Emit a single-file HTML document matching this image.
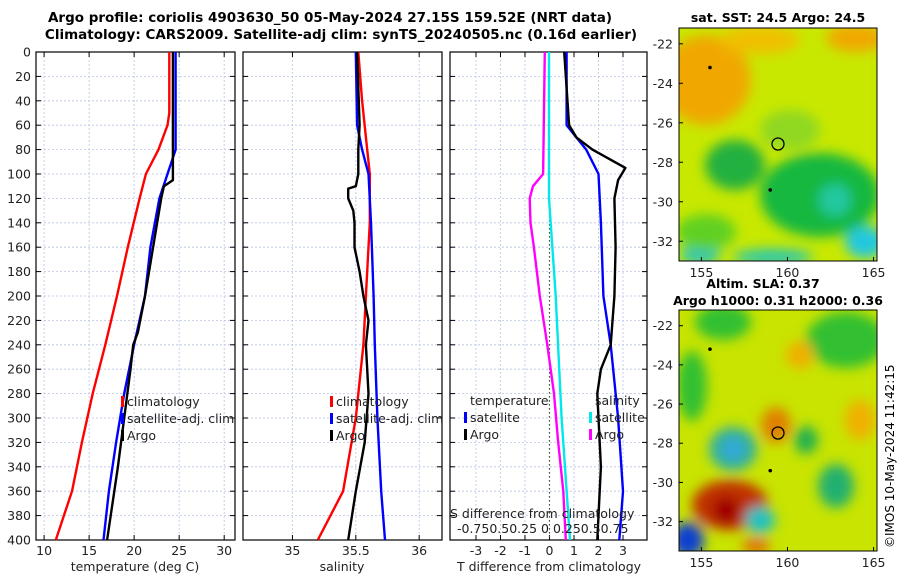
<!DOCTYPE html>
<html><head><meta charset="utf-8"><style>
body{margin:0;background:#fff;font-family:"Liberation Sans","DejaVu Sans",sans-serif}
svg text{font-family:"DejaVu Sans","Liberation Sans",sans-serif}
</style></head><body>
<svg id="c" width="900" height="580" viewBox="0 0 900 580" xmlns="http://www.w3.org/2000/svg">
<defs>
<filter id="bl" x="-30%" y="-30%" width="160%" height="160%"><feGaussianBlur stdDeviation="6"/></filter>
<clipPath id="m1"><rect x="679" y="28" width="198" height="233"/></clipPath>
<clipPath id="m2"><rect x="679" y="310" width="198" height="241"/></clipPath>
</defs>
<text x="330" y="22" font-size="13.5" font-weight="bold" text-anchor="middle">Argo profile: coriolis 4903630_50 05-May-2024 27.15S 159.52E (NRT data)</text>
<text x="341" y="39" font-size="13.5" font-weight="bold" text-anchor="middle">Climatology: CARS2009. Satellite-adj clim: synTS_20240505.nc (0.16d earlier)</text>
<g id="plots"></g>
<g clip-path="url(#m1)">
<rect x="679" y="28" width="198" height="233" fill="#c8e800"/>
<g filter="url(#bl)">
<ellipse cx="706" cy="80" rx="45" ry="45" fill="#f0a800"/>
<ellipse cx="760" cy="40" rx="40" ry="14" fill="#f0c000"/>
<ellipse cx="856" cy="38" rx="30" ry="14" fill="#f0a800"/>
<ellipse cx="735" cy="165" rx="30" ry="25" fill="#20b040"/>
<ellipse cx="820" cy="195" rx="60" ry="42" fill="#18b840"/>
<ellipse cx="835" cy="200" rx="16" ry="16" fill="#20c8a0"/>
<ellipse cx="865" cy="242" rx="20" ry="16" fill="#20c8e0"/>
<ellipse cx="773" cy="257" rx="40" ry="8" fill="#28c8b0"/>
<ellipse cx="700" cy="255" rx="20" ry="10" fill="#30c8b0"/>
<ellipse cx="706" cy="232" rx="30" ry="18" fill="#60d020"/>
<ellipse cx="790" cy="130" rx="30" ry="20" fill="#90d820"/>
</g>
</g>
<rect x="679" y="28" width="198" height="233" fill="none" stroke="#000"/>
<circle cx="778" cy="144" r="6" fill="none" stroke="#000" stroke-width="1.3"/>
<g clip-path="url(#m2)">
<rect x="679" y="310" width="198" height="241" fill="#c8e400"/>
<g filter="url(#bl)">
<ellipse cx="723" cy="322" rx="28" ry="18" fill="#30c030"/>
<ellipse cx="846" cy="340" rx="40" ry="28" fill="#30c030"/>
<ellipse cx="692" cy="386" rx="15" ry="35" fill="#30c030"/>
<ellipse cx="800" cy="355" rx="14" ry="14" fill="#f0b000"/>
<ellipse cx="776" cy="425" rx="15" ry="18" fill="#e08000"/>
<ellipse cx="733" cy="449" rx="24" ry="22" fill="#30b0a0"/>
<ellipse cx="733" cy="449" rx="10" ry="10" fill="#30a8e0"/>
<ellipse cx="730" cy="505" rx="38" ry="25" fill="#c03000"/>
<ellipse cx="726" cy="510" rx="14" ry="14" fill="#a00000"/>
<ellipse cx="760" cy="520" rx="15" ry="14" fill="#20c0c0"/>
<ellipse cx="836" cy="486" rx="18" ry="22" fill="#20b070"/>
<ellipse cx="806" cy="440" rx="12" ry="14" fill="#20b050"/>
<ellipse cx="688" cy="540" rx="16" ry="18" fill="#1040d0"/>
<ellipse cx="860" cy="420" rx="15" ry="20" fill="#f0b000"/>
<ellipse cx="756" cy="546" rx="14" ry="8" fill="#e07000"/>
</g>
</g>
<rect x="679" y="310" width="198" height="241" fill="none" stroke="#000"/>
<circle cx="778" cy="433" r="6" fill="none" stroke="#000" stroke-width="1.3"/>
<text x="778" y="22" font-size="12.5" font-weight="bold" text-anchor="middle">sat. SST: 24.5 Argo: 24.5</text>
<text x="763" y="288" font-size="12.5" font-weight="bold" text-anchor="middle">Altim. SLA: 0.37</text>
<text x="778" y="305" font-size="12.5" font-weight="bold" text-anchor="middle">Argo h1000: 0.31 h2000: 0.36</text>
<text x="0" y="0" font-size="12" transform="translate(894,548) rotate(-90)">©IMOS 10-May-2024 11:42:15</text>
<g id="mapaxes"></g>
</svg>
<script>
// ---- data (depth in dbar) ----
const depthsTclim=[0,50,60,80,100,120,160,200,240,280,320,360,400];
const tClim=[23.9,23.9,23.7,22.7,21.3,20.6,19.3,18.1,16.8,15.4,14.2,13.1,11.3];
const depthsTsat=[0,80,100,120,160,200,240,280,320,360,400];
const tSat=[24.6,24.6,23.7,22.8,21.8,21.2,20.0,18.9,18.0,17.2,16.6];
const depthsTargo=[0,105,110,120,160,200,230,240,260,300,340,400];
const tArgo=[24.3,24.3,23.3,23.0,22.1,21.2,20.4,19.9,19.6,18.9,18.2,17.0];
const depthsSclim=[0,40,80,100,140,200,240,300,360,400];
const sClim=[35.52,35.55,35.59,35.61,35.61,35.58,35.56,35.50,35.40,35.20];
const depthsSsat=[0,60,80,100,140,200,240,300,360,400];
const sSat=[35.50,35.51,35.55,35.60,35.62,35.64,35.65,35.67,35.70,35.73];
const depthsSargo=[0,60,80,100,110,112,120,130,140,160,180,200,220,240,280,320,360,380,400];
const sArgo=[35.51,35.53,35.52,35.52,35.50,35.44,35.44,35.48,35.49,35.49,35.53,35.56,35.60,35.58,35.60,35.57,35.50,35.47,35.44];
const depthsDTsat=[0,60,80,100,140,200,240,300,360,400];
const dTsat=[0.7,0.7,1.5,2.0,2.1,2.2,2.5,2.8,3.0,2.85];
const depthsDTargo=[0,60,70,80,95,105,120,160,200,240,260,280,300,340,400];
const dTargo=[0.6,0.8,1.1,1.75,3.1,2.8,2.65,2.7,2.65,2.5,2.1,1.95,2.0,2.1,1.95];
const depthsDSsat=[0,120,200,300,400];
const dSsat=[0,0,0.08,0.15,0.25];
const depthsDSargo=[0,100,110,120,140,160,200,240,280,320,360,400];
const dSargo=[-0.05,-0.07,-0.19,-0.23,-0.22,-0.18,-0.11,-0.02,0.06,0.11,0.17,0.2];
const depthTicks=[0,20,40,60,80,100,120,140,160,180,200,220,240,260,280,300,320,340,360,380,400];
const tTicks=[10,15,20,25,30];
const sTicks=[35,35.5,36];
const dTTicks=[-3,-2,-1,0,1,2,3];
const latTicks=[-22,-24,-26,-28,-30,-32];
const lonTicks=[155,160,165];

const NS="http://www.w3.org/2000/svg";
const g=document.getElementById('plots');
function el(tag,attrs,parent){const e=document.createElementNS(NS,tag);for(const k in attrs)e.setAttribute(k,attrs[k]);(parent||g).appendChild(e);return e;}
const Y0=52,Y1=540;
const yS=d=>Y0+(d/400)*(Y1-Y0);
function panel(x0,x1,xmin,xmax,name){return {x0,x1,x:v=>x0+(v-xmin)/(xmax-xmin)*(x1-x0),name};}
const P1=panel(36,235,9.1,31.2,'temperature');
const P2=panel(243,442,34.61,36.18,'salinity');
const P3=panel(450,647,-4.06,3.98,'difference');
const dsX=v=>549+v*84;

function frame(P,xt,showY){
  for(const d of depthTicks){
    const l=el('line',{x1:P.x0,x2:P.x1,y1:yS(d),y2:yS(d),stroke:'#b8c4e8','stroke-width':0.8,'stroke-dasharray':'2,2'});
    
    el('line',{x1:P.x0,x2:P.x0+5,y1:yS(d),y2:yS(d),stroke:'#000'});
    el('line',{x1:P.x1-5,x2:P.x1,y1:yS(d),y2:yS(d),stroke:'#000'});
    if(showY){const t=el('text',{x:P.x0-5,y:yS(d)+4.5,'font-size':12.5,'text-anchor':'end',fill:'#222'});t.textContent=d;
      }
  }
  xt.forEach(v=>{const x=P.x(v);
    const l=el('line',{x1:x,x2:x,y1:Y0,y2:Y1,stroke:'#b8c4e8','stroke-width':0.8,'stroke-dasharray':'2,2'});
    
    el('line',{x1:x,x2:x,y1:Y1,y2:Y1-5,stroke:'#000'});el('line',{x1:x,x2:x,y1:Y0,y2:Y0+5,stroke:'#000'});
    const t=el('text',{x:x,y:Y1+15,'font-size':12.5,'text-anchor':'middle',fill:'#222'});t.textContent=v;
    
  });
  const r=el('rect',{x:P.x0,y:Y0,width:P.x1-P.x0,height:Y1-Y0,fill:'none',stroke:'#000','stroke-width':1.2});
  
}
function line(xf,ds,vs,color,name){
  const pts=ds.map((d,i)=>xf(vs[i]).toFixed(1)+','+yS(d).toFixed(1)).join(' ');
  const p=el('polyline',{points:pts,fill:'none',stroke:color,'stroke-width':2.4,'stroke-linejoin':'round'});
  
}
function txt(x,y,s,name,anchor){const t=el('text',{x,y,'font-size':12.5,fill:'#222','text-anchor':anchor||'start'});t.textContent=s;
  return t;}
function legend(x,y,color,label,name){
  const r=el('rect',{x:x,y:y-10,width:3,height:11,fill:color});
  
  txt(x+6,y,label,name);
}

frame(P1,tTicks,true);
frame(P2,sTicks,false);
frame(P3,dTTicks,false);
const z=el('line',{x1:P3.x(0),x2:P3.x(0),y1:Y0,y2:Y1,stroke:'#3a5a2a','stroke-width':1.2,'stroke-dasharray':'1.5,2.5'});


line(P1.x,depthsTclim,tClim,'#f00','temp-climatology-line');
line(P1.x,depthsTsat,tSat,'#0000ff','temp-satellite-line');
line(P1.x,depthsTargo,tArgo,'#000','temp-argo-line');
line(P2.x,depthsSclim,sClim,'#f00','sal-climatology-line');
line(P2.x,depthsSsat,sSat,'#0000ff','sal-satellite-line');
line(P2.x,depthsSargo,sArgo,'#000','sal-argo-line');
line(dsX,depthsDSsat,dSsat,'#00e8e8','sdiff-satellite-line');
line(dsX,depthsDSargo,dSargo,'#ff00ff','sdiff-argo-line');
line(P3.x,depthsDTsat,dTsat,'#0000ff','tdiff-satellite-line');
line(P3.x,depthsDTargo,dTargo,'#000','tdiff-argo-line');

legend(121,406,'#f00','climatology','legend-climatology');
legend(121,423,'#0000ff','satellite-adj. clim','legend-satellite');
legend(121,440,'#000','Argo','legend-argo');
legend(330,406,'#f00','climatology','legend2-climatology');
legend(330,423,'#0000ff','satellite-adj. clim','legend2-satellite');
legend(330,440,'#000','Argo','legend2-argo');
txt(470,405,'temperature','legend-temperature-header');
legend(464,422,'#0000ff','satellite','legend-tdiff-satellite');
legend(464,439,'#000','Argo','legend-tdiff-argo');
txt(595,405,'salinity','legend-salinity-header');
legend(589,422,'#00e8e8','satellite','legend-sdiff-satellite');
legend(589,439,'#ff00ff','Argo','legend-sdiff-argo');
txt(450,518,'S difference from climatology','sdiff-axis-title');
txt(457,533,'-0.750.50.25 0 0.250.50.75','sdiff-tick-labels');

txt(135,571,'temperature (deg C)','x-axis-title-temperature','middle');
txt(342,571,'salinity','x-axis-title-salinity','middle');
txt(549,571,'T difference from climatology','x-axis-title-tdiff','middle');

// map axes
const ma=document.getElementById('mapaxes');
function mapAxes(y0,y1,latTop,latBot){
  const ly=v=>y0+(latTop-v)/(latTop-latBot)*(y1-y0);
  const lx=v=>679+(v-153.7)/(165.2-153.7)*198;
  for(const v of latTicks){const y=ly(v);
    el('line',{x1:679,x2:683,y1:y,y2:y,stroke:'#000'},ma);
    const t=el('text',{x:673,y:y+4.5,'font-size':12.5,'text-anchor':'end',fill:'#222'},ma);t.textContent=v;
    }
  for(const v of lonTicks){const x=lx(v);
    el('line',{x1:x,x2:x,y1:y1,y2:y1-4,stroke:'#000'},ma);
    const t=el('text',{x:x,y:y1+16,'font-size':12.5,'text-anchor':'middle',fill:'#222'},ma);t.textContent=v;
    }
  for(const [lo,la] of [[155.5,-23.2],[159,-29.4]]){el('circle',{cx:lx(lo),cy:ly(la),r:1.8,fill:'#000'},ma);}
}
mapAxes(28,261,-21.2,-33.0);
mapAxes(310,551,-21.2,-33.5);
</script>
</body></html>
